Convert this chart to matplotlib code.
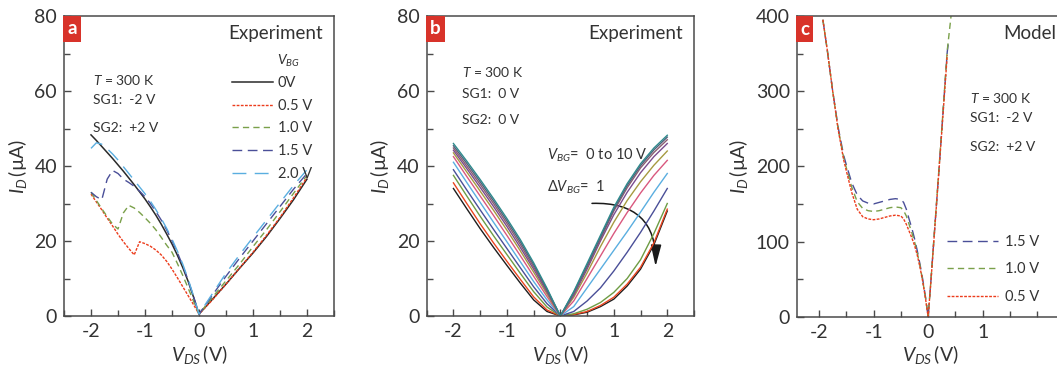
import matplotlib
matplotlib.use("Agg")
import matplotlib.pyplot as plt
from matplotlib.patches import FancyArrowPatch, ArrowStyle
from matplotlib.ticker import MultipleLocator

plt.rcParams['font.family'] = ['Lato', 'DejaVu Sans']
plt.rcParams['mathtext.fontset'] = 'custom'
plt.rcParams['mathtext.rm'] = 'Lato'
plt.rcParams['mathtext.it'] = 'Lato:italic'
plt.rcParams['mathtext.bf'] = 'Lato:bold'

TXT = '#333333'
SPINE = '#4a4a4a'
RED_BOX = '#d8332a'

# ---------------- Panel a data ----------------
vds_a = [-2.0, -1.9, -1.8, -1.7, -1.6, -1.5, -1.4, -1.3, -1.2, -1.1, -1.0,
         -0.9, -0.8, -0.7, -0.6, -0.5, -0.4, -0.3, -0.2, -0.1, 0.0,
         0.25, 0.5, 0.75, 1.0, 1.25, 1.5, 1.75, 2.0]
id_a_0v = [48.3, 46.8, 45.2, 43.6, 42.0, 40.3, 38.6, 36.8, 35.0, 33.1, 31.2,
           29.1, 26.9, 24.5, 21.9, 19.2, 16.2, 12.9, 9.2, 5.0, 0.5,
           4.5, 8.5, 12.7, 16.8, 21.2, 26.0, 31.0, 36.5]
id_a_05v = [32.5, 30.4, 28.3, 26.1, 24.0, 21.8, 19.8, 18.0, 16.3, 19.8, 19.3,
            18.6, 17.6, 16.3, 14.6, 12.5, 10.2, 7.8, 5.4, 3.0, 0.5,
            4.3, 8.5, 12.8, 17.0, 21.5, 26.3, 31.5, 37.0]
id_a_10v = [33.0, 30.8, 28.6, 26.5, 24.5, 23.2, 27.5, 29.5, 28.8, 27.6, 26.2,
            24.7, 23.0, 21.0, 18.9, 17.0, 14.0, 10.8, 7.4, 3.9, 0.5,
            5.0, 9.4, 13.8, 18.5, 23.0, 27.8, 32.7, 37.5]
id_a_15v = [33.0, 31.8, 31.0, 36.5, 38.8, 38.0, 36.5, 35.6, 34.6, 33.3, 31.8,
            30.0, 27.9, 25.6, 23.0, 20.1, 16.9, 13.4, 9.5, 5.1, 0.5,
            5.6, 10.6, 15.4, 20.0, 24.6, 29.2, 33.8, 38.0]
id_a_20v = [44.7, 46.2, 45.8, 44.6, 43.2, 41.6, 39.8, 38.0, 36.2, 34.4, 32.6,
            30.6, 28.4, 26.0, 23.4, 20.5, 17.3, 13.8, 9.8, 5.3, 0.5,
            6.0, 11.4, 16.3, 21.0, 25.6, 30.2, 34.8, 39.0]
labels_a = ['0V', '0.5 V', '1.0 V', '1.5 V', '2.0 V']

# ---------------- Panel b data ----------------
vds_b = [-2.0, -1.75, -1.5, -1.25, -1.0, -0.75, -0.5, -0.25, 0.0,
         0.25, 0.5, 0.75, 1.0, 1.25, 1.5, 1.75, 2.0]
id_b = [
    [34.0, 28.6, 23.3, 18.3, 13.5, 8.8, 4.3, 1.2, 0.0, 0.3, 1.0, 2.5, 4.5, 8.0, 12.5, 19.0, 28.0],
    [35.5, 30.0, 24.6, 19.5, 14.6, 9.8, 5.1, 1.6, 0.0, 0.4, 1.2, 2.8, 5.0, 8.5, 13.0, 19.5, 28.5],
    [37.5, 32.0, 26.6, 21.4, 16.4, 11.4, 6.5, 2.4, 0.0, 0.6, 1.8, 3.6, 6.3, 10.0, 15.0, 22.0, 30.0],
    [39.0, 33.6, 28.3, 23.1, 18.0, 12.9, 7.8, 3.3, 0.0, 1.2, 4.0, 7.5, 12.0, 17.0, 22.3, 28.0, 34.0],
    [41.0, 35.6, 30.3, 25.0, 19.8, 14.5, 9.2, 4.3, 0.0, 2.5, 7.5, 12.5, 17.5, 22.5, 27.7, 33.0, 38.0],
    [42.5, 37.2, 32.0, 26.8, 21.5, 16.1, 10.6, 5.2, 0.0, 4.0, 10.0, 16.0, 22.0, 27.6, 32.8, 37.5, 41.5],
    [43.5, 38.4, 33.3, 28.2, 22.9, 17.4, 11.7, 5.9, 0.0, 5.0, 11.5, 18.5, 25.0, 30.8, 35.8, 40.2, 44.0],
    [44.2, 39.3, 34.3, 29.2, 23.9, 18.3, 12.5, 6.4, 0.0, 5.5, 12.5, 20.0, 27.0, 33.0, 38.2, 42.5, 46.0],
    [44.8, 40.0, 35.1, 30.0, 24.7, 19.1, 13.1, 6.8, 0.0, 6.0, 13.0, 20.5, 28.0, 34.2, 39.5, 43.6, 47.0],
    [45.4, 40.7, 35.8, 30.7, 25.4, 19.8, 13.7, 7.1, 0.0, 6.3, 13.5, 21.0, 28.5, 34.8, 40.1, 44.3, 47.7],
    [46.0, 41.3, 36.4, 31.3, 26.0, 20.4, 14.2, 7.4, 0.0, 6.5, 14.0, 21.5, 29.0, 35.3, 40.6, 44.8, 48.2],
]
colors_b = ['#1e1e1e', '#ea4520', '#6e9c44', '#4a4f98', '#5aaee0', '#d9587e',
            '#a69a40', '#7b4c8e', '#8a5c70', '#50607a', '#2e8a8c']

# ---------------- Panel c data ----------------
vds_c = [-1.93, -1.85, -1.75, -1.65, -1.55, -1.5, -1.4, -1.3, -1.2, -1.1, -1.0,
         -0.9, -0.8, -0.7, -0.6, -0.5, -0.45, -0.4, -0.35, -0.3, -0.25, -0.2,
         -0.15, -0.1, -0.05, 0.0, 0.05, 0.1, 0.15, 0.2, 0.25, 0.3, 0.35]
id_c_15v = [395, 355, 300, 252, 215, 202, 178, 162, 154, 151, 150,
            152, 154, 156, 157, 156, 152, 143, 130, 118, 104, 88,
            70, 50, 27, 0, 47, 97, 147, 197, 248, 300, 352]
id_c_10v = [395, 355, 300, 250, 212, 198, 172, 153, 144, 141, 140,
            141, 143, 145, 146, 145, 141, 134, 123, 112, 100, 85,
            68, 48, 26, 0, 47, 98, 148, 199, 250, 302, 354]
id_c_05v = [395, 355, 300, 249, 209, 194, 165, 143, 133, 130, 129,
            130, 132, 134, 135, 134, 130, 123, 114, 105, 95, 82,
            66, 47, 25, 0, 46, 96, 146, 196, 246, 297, 348]
vds_c_tail_15 = [0.35, 0.37]
id_c_tail_15 = [352, 364]
vds_c_tail_10 = [0.35, 0.42]
id_c_tail_10 = [354, 400]
labels_c = ['1.5 V', '1.0 V', '0.5 V']

FIG_W, FIG_H = 1057, 370
fig = plt.figure(figsize=(FIG_W / 100, FIG_H / 100), dpi=100)


def add_axes_px(left, right, top, bottom):
    return fig.add_axes([left / FIG_W, (FIG_H - bottom) / FIG_H,
                         (right - left) / FIG_W, (bottom - top) / FIG_H])


def style_axes(ax, xlim, ylim, ymaj, ymin, xticks):
    ax.set_xlim(*xlim)
    ax.set_ylim(*ylim)
    ax.set_xticks(xticks)
    ax.xaxis.set_minor_locator(MultipleLocator(0.5))
    ax.yaxis.set_major_locator(MultipleLocator(ymaj))
    ax.yaxis.set_minor_locator(MultipleLocator(ymin))
    ax.tick_params(which='both', direction='in', top=False, right=False,
                   color=SPINE, width=1.0, labelsize=14, labelcolor=TXT, pad=5)
    ax.tick_params(which='major', length=5)
    ax.tick_params(which='minor', length=4)
    for s in ax.spines.values():
        s.set_color(SPINE)
        s.set_linewidth(1.1)
    ax.set_xticklabels([('%d' % t) for t in xticks])
    ax.set_xlabel(r'$V_{DS}\,$(V)', fontsize=14, color=TXT, labelpad=2)
    ax.set_ylabel(r'$I_D\,$(µA)', fontsize=14, color=TXT, labelpad=4)


def panel_label(ax, letter):
    ax.text(0.012, 0.985, letter, transform=ax.transAxes, ha='left', va='top',
            color='white', fontsize=13.5, fontweight='bold',
            bbox=dict(boxstyle='square,pad=0.22', facecolor=RED_BOX, edgecolor='none'))


def note(ax, x, y, s, size=10):
    ax.text(x, y, s, transform=ax.transAxes, fontsize=size, color=TXT,
            ha='left', va='center')


# ---------------- Panel a ----------------
axa = add_axes_px(64, 334, 16, 316)
style_axes(axa, (-2.5, 2.5), (0, 80), 20, 10, [-2, -1, 0, 1, 2])
lw = 1.0
axa.plot(vds_a, id_a_0v, color='#2a2a2a', lw=1.1, label=labels_a[0])
axa.plot(vds_a, id_a_05v, color='#ec3c1c', lw=lw, dashes=(2, 1), label=labels_a[1])
axa.plot(vds_a, id_a_10v, color='#7aa04a', lw=lw, dashes=(4.5, 3), label=labels_a[2])
axa.plot(vds_a, id_a_15v, color='#4a4f98', lw=lw, dashes=(7, 4), label=labels_a[3])
axa.plot(vds_a, id_a_20v, color='#5aaee0', lw=lw, dashes=(10, 6), label=labels_a[4])
leg = axa.legend(loc='upper left', bbox_to_anchor=(0.622, 0.80), frameon=False,
                 fontsize=10.5, handlelength=2.8, handletextpad=0.35,
                 labelspacing=0.6, borderpad=0, borderaxespad=0)
for t in leg.get_texts():
    t.set_color(TXT)
axa.text(0.79, 0.85, r'$V_{BG}$', transform=axa.transAxes, fontsize=10,
         color=TXT, ha='left', va='center')
axa.text(0.959, 0.943, 'Experiment', transform=axa.transAxes, fontsize=13.5,
         color=TXT, ha='right', va='center')
note(axa, 0.107, 0.787, r'$T$ = 300 K')
note(axa, 0.107, 0.72, 'SG1:  -2 V')
note(axa, 0.107, 0.627, 'SG2:  +2 V')
panel_label(axa, 'a')

# ---------------- Panel b ----------------
axb = add_axes_px(426.7, 694, 16, 316)
style_axes(axb, (-2.5, 2.5), (0, 80), 20, 10, [-2, -1, 0, 1, 2])
for ys, c in zip(id_b, colors_b):
    axb.plot(vds_b, ys, color=c, lw=1.0)
axb.text(0.959, 0.943, 'Experiment', transform=axb.transAxes, fontsize=13.5,
         color=TXT, ha='right', va='center')
note(axb, 0.132, 0.813, r'$T$ = 300 K')
note(axb, 0.132, 0.74, 'SG1:  0 V')
note(axb, 0.132, 0.653, 'SG2:  0 V')
note(axb, 0.45, 0.537, r'$V_{BG}$=  0 to 10 V', 10.5)
note(axb, 0.45, 0.43, r'$\Delta V_{BG}$=  1', 10.5)
arr = FancyArrowPatch((0.54, 30.0), (1.78, 12.5),
                      connectionstyle='arc3,rad=-0.55',
                      arrowstyle=ArrowStyle('-|>', head_length=13, head_width=3.2),
                      color='#1a1a1a', lw=1.1, mutation_scale=1)
axb.add_patch(arr)
panel_label(axb, 'b')

# ---------------- Panel c ----------------
axc = add_axes_px(796.7, 1064.5, 16, 316.7)
style_axes(axc, (-2.41, 2.5), (0, 400), 100, 50, [-2, -1, 0, 1])
axc.plot(vds_c + vds_c_tail_15[1:], id_c_15v + id_c_tail_15[1:], color='#4a4f98',
         lw=1.0, dashes=(7, 4), label=labels_c[0])
axc.plot(vds_c + vds_c_tail_10[1:], id_c_10v + id_c_tail_10[1:], color='#7aa04a',
         lw=1.0, dashes=(4.5, 3), label=labels_c[1])
axc.plot(vds_c, id_c_05v, color='#ec3c1c', lw=1.0, dashes=(2, 1), label=labels_c[2])
legc = axc.legend(loc='upper left', bbox_to_anchor=(0.561, 0.273), frameon=False,
                  fontsize=10.5, handlelength=3.5, handletextpad=0.45,
                  labelspacing=0.95, borderpad=0, borderaxespad=0)
for t in legc.get_texts():
    t.set_color(TXT)
axc.text(0.77, 0.943, 'Model', transform=axc.transAxes, fontsize=13.5,
         color=TXT, ha='left', va='center')
note(axc, 0.648, 0.727, r'$T$ = 300 K')
note(axc, 0.648, 0.66, 'SG1:  -2 V')
note(axc, 0.648, 0.565, 'SG2:  +2 V')
panel_label(axc, 'c')

fig.savefig('out.png', dpi=100)
